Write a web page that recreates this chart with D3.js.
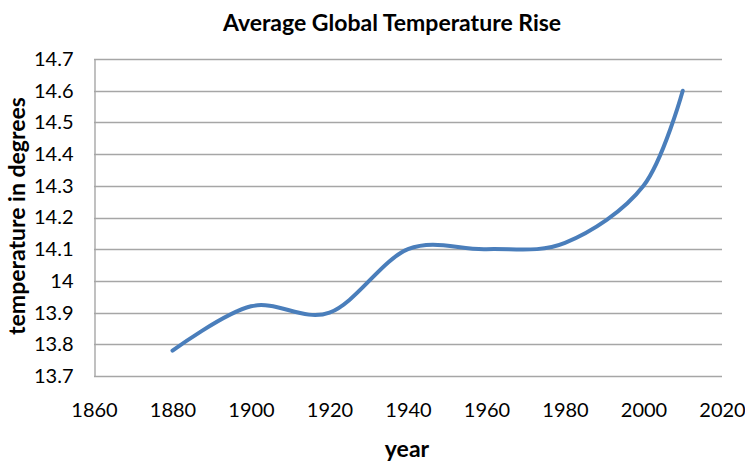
<!DOCTYPE html>
<html>
<head>
<meta charset="utf-8">
<script src="https://cdn.jsdelivr.net/npm/d3@7"></script>
<style>
  body { margin: 0; background: #fff; }
  text { font-family: Lato, "Open Sans", sans-serif; fill: #000; }
</style>
</head>
<body>
<script>
'use strict';

// data
const years = [1880, 1900, 1920, 1940, 1960, 1980, 2000, 2010];
const temps = [13.78, 13.92, 13.9, 14.1, 14.1, 14.12, 14.3, 14.6];
const xTicks = [1860, 1880, 1900, 1920, 1940, 1960, 1980, 2000, 2020];
const yTicks = [13.7, 13.8, 13.9, 14, 14.1, 14.2, 14.3, 14.4, 14.5, 14.6, 14.7];

const width = 745, height = 462;
const plot = { left: 94, right: 722, top: 59, bottom: 376 };

const svg = d3.select('body')
  .append('svg')
  .attr('width', width)
  .attr('height', height);

const xScale = d3.scaleLinear().domain([1860, 2020]).range([plot.left, plot.right]);
const yScale = d3.scaleLinear().domain([13.7, 14.7]).range([plot.bottom, plot.top]);

// horizontal gridlines
svg.append('g')
  .selectAll('line')
  .data(yTicks)
  .enter()
  .append('line')
  .attr('x1', plot.left)
  .attr('x2', plot.right)
  .attr('y1', d => Math.round(yScale(d)) + 0.5)
  .attr('y2', d => Math.round(yScale(d)) + 0.5)
  .attr('stroke', '#a6a6a6')
  .attr('stroke-width', 1.4);

// y axis
const yAxis = d3.axisLeft(yScale).tickValues(yTicks).tickSize(0).tickPadding(21)
  .tickFormat(d3.format('~g'));
svg.append('g')
  .attr('transform', `translate(${plot.left + 0.5},0)`)
  .call(yAxis)
  .call(g => g.select('.domain').attr('stroke', '#a6a6a6').attr('stroke-width', 1.4))
  .call(g => g.selectAll('text').style('font-size', '20px').attr('fill', '#000'));

// x axis
const xAxis = d3.axisBottom(xScale).tickValues(xTicks).tickSize(0).tickPadding(26)
  .tickFormat(d3.format('d'));
svg.append('g')
  .attr('transform', `translate(0,${plot.bottom + 0.5})`)
  .call(xAxis)
  .call(g => g.select('.domain').remove())
  .call(g => g.selectAll('text').style('font-size', '20px').attr('fill', '#000'));

// smoothed line
const line = d3.line()
  .x((d, i) => xScale(years[i]))
  .y(d => yScale(d))
  .curve(d3.curveCatmullRom.alpha(0));

svg.append('path')
  .datum(temps)
  .attr('d', line)
  .attr('fill', 'none')
  .attr('stroke', '#4a7ebb')
  .attr('stroke-width', 4)
  .attr('stroke-linecap', 'round');

// labels
svg.append('text')
  .attr('x', 392)
  .attr('y', 31)
  .attr('text-anchor', 'middle')
  .style('font-size', '23px')
  .style('font-weight', 'bold')
  .text('Average Global Temperature Rise');

svg.append('text')
  .attr('x', 407)
  .attr('y', 457)
  .attr('text-anchor', 'middle')
  .style('font-size', '23px')
  .style('font-weight', 'bold')
  .text('year');

svg.append('text')
  .attr('transform', 'translate(25,216)rotate(-90)')
  .attr('text-anchor', 'middle')
  .style('font-size', '23px')
  .style('font-weight', 'bold')
  .text('temperature in degrees');
</script>
</body>
</html>
